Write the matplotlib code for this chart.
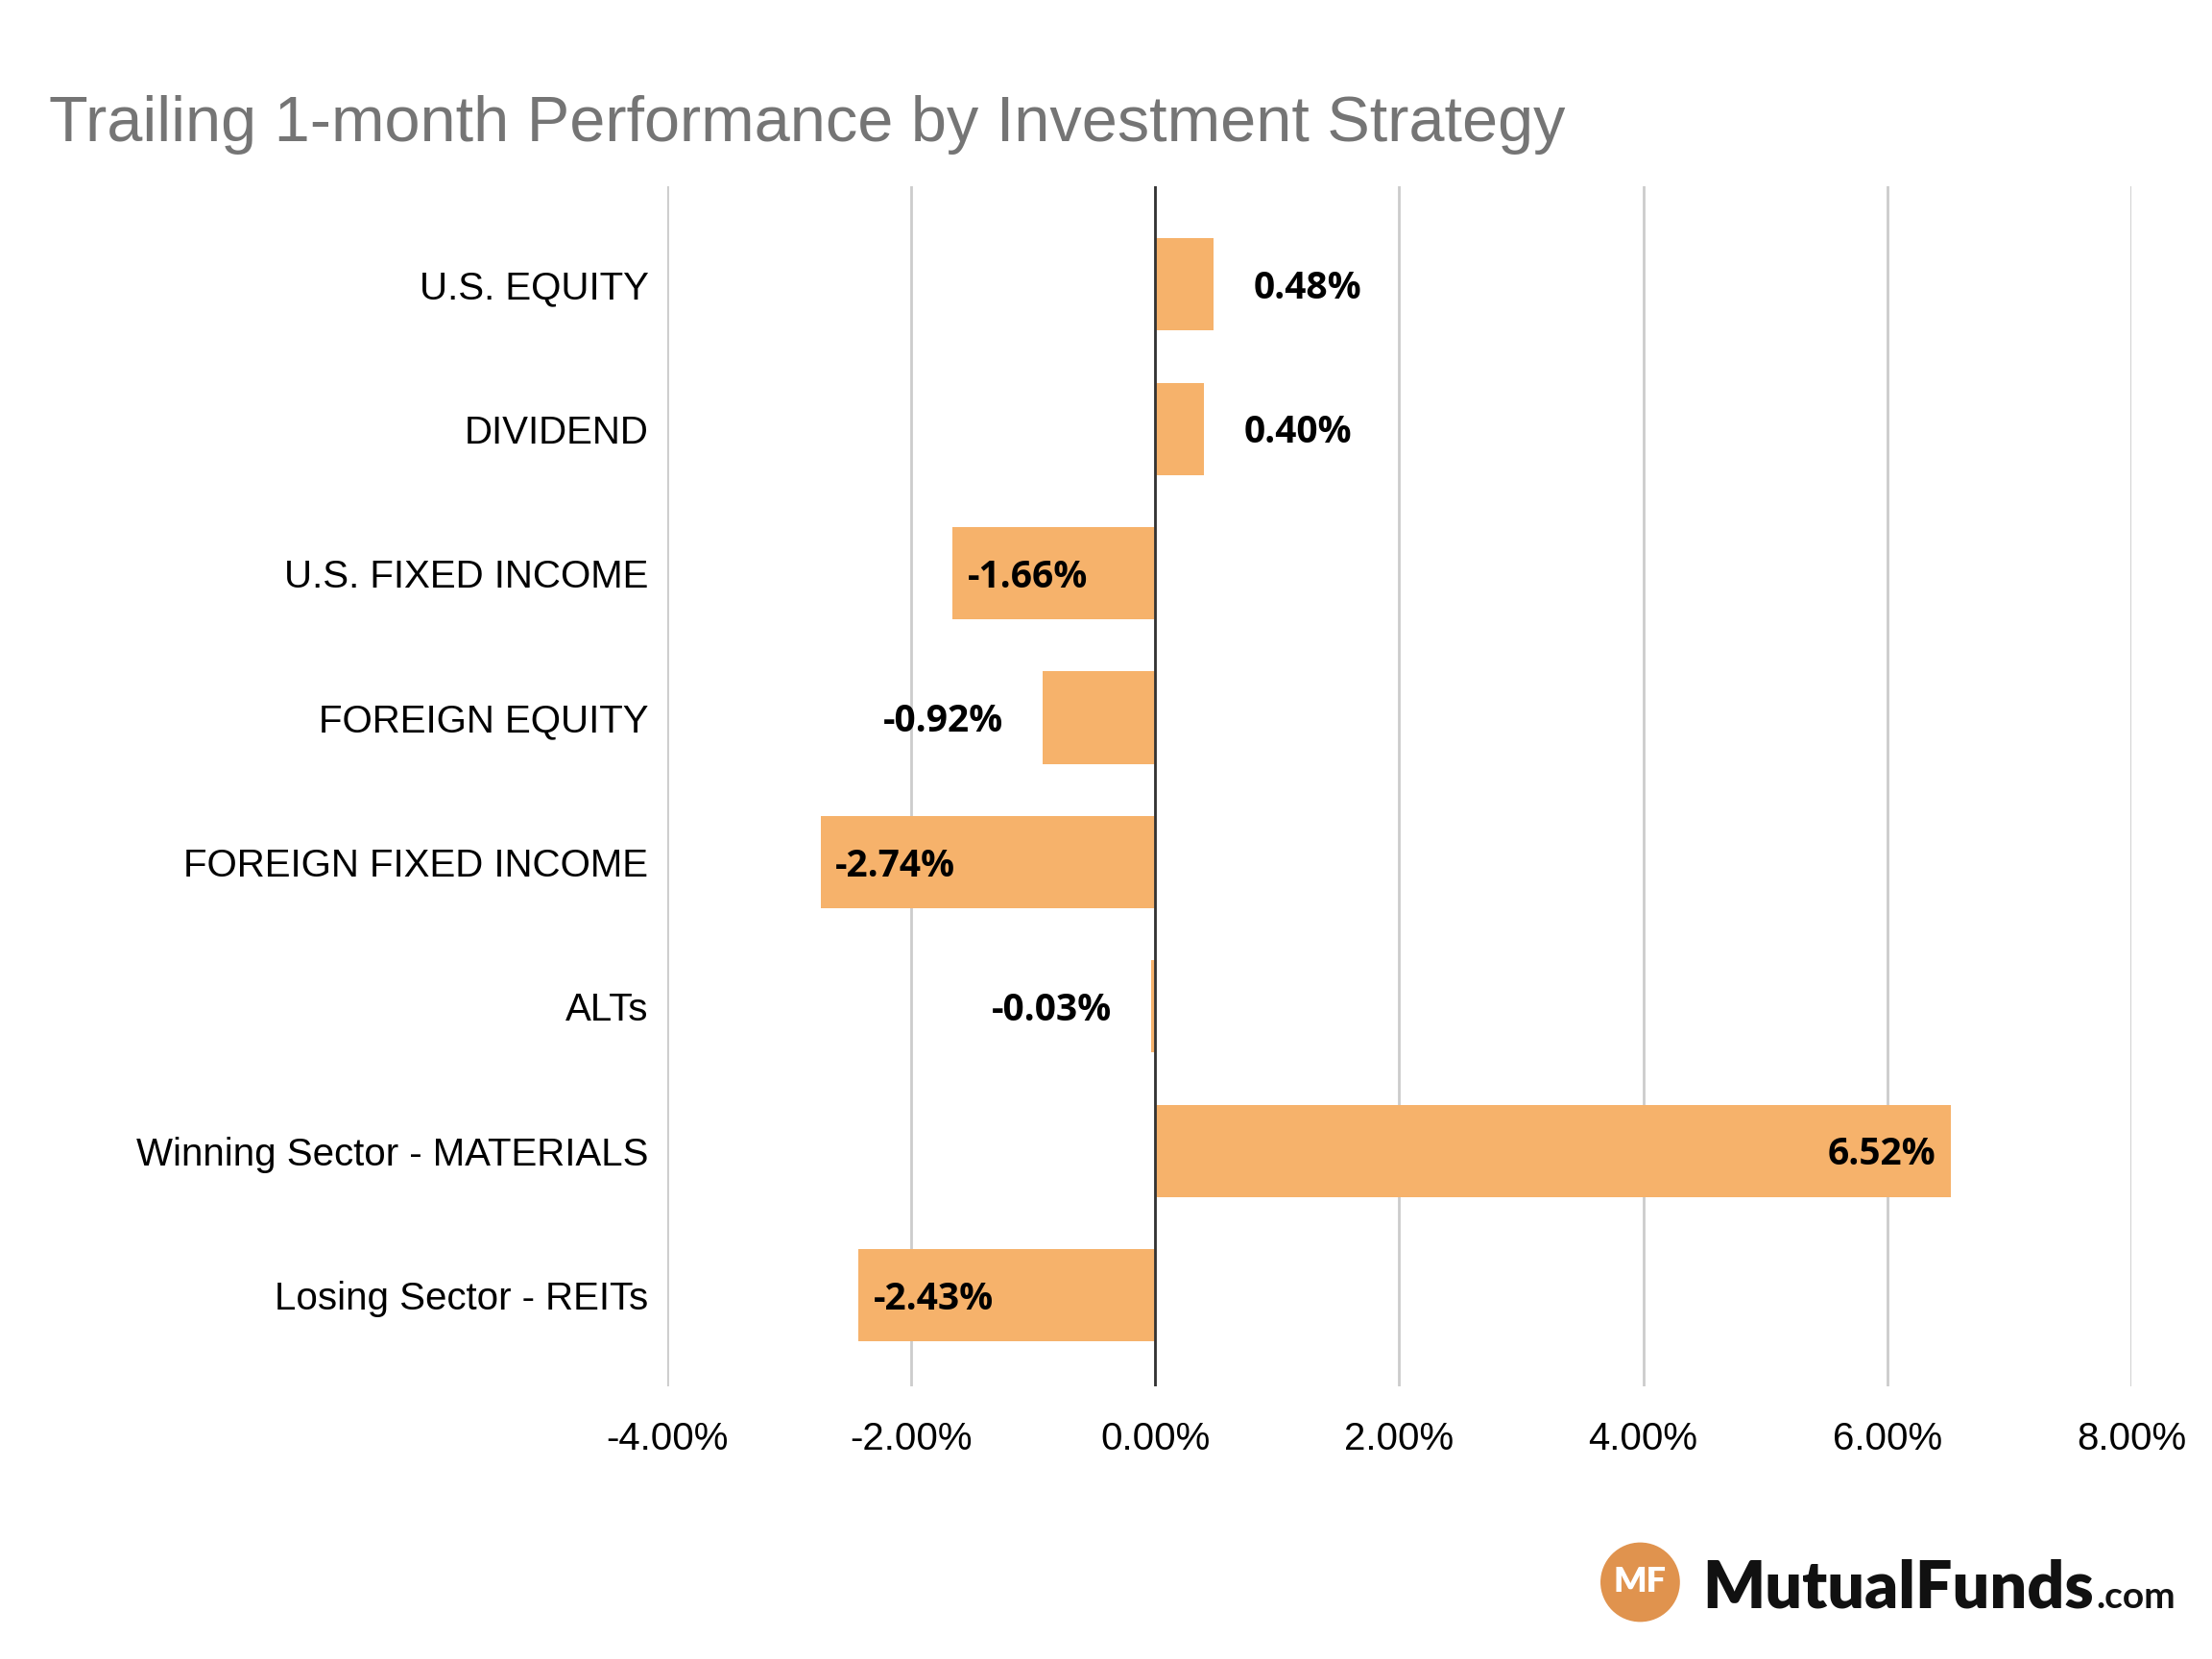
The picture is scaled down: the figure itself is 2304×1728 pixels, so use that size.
import numpy as np
import matplotlib.pyplot as plt
from matplotlib.patches import Ellipse
from matplotlib.ticker import FuncFormatter

# Datos
categorias = ["U.S. EQUITY", "DIVIDEND", "U.S. FIXED INCOME", "FOREIGN EQUITY",
              "FOREIGN FIXED INCOME", "ALTs", "Winning Sector - MATERIALS",
              "Losing Sector - REITs"]
valores = [0.48, 0.40, -1.66, -0.92, -2.74, -0.03, 6.52, -2.43]
ticks_x = [-4, -2, 0, 2, 4, 6, 8]

color_barra = "#F6B26B"

fig = plt.figure(figsize=(11.52, 8.64), dpi=200)
ax = fig.add_axes([0.3016, 0.1644, 0.6619, 0.7233])

y = np.arange(len(categorias))
ax.barh(y, valores, height=0.64, color=color_barra, zorder=2)

ax.set_xlim(-4, 8)
ax.set_ylim(7.63, -0.68)
ax.set_xticks(ticks_x)
ax.xaxis.set_major_formatter(FuncFormatter(lambda v, p: f"{v:.2f}%"))
ax.set_yticks(y)
ax.set_yticklabels(categorias)

for s in ax.spines.values():
    s.set_visible(False)
ax.tick_params(axis="both", length=0, labelsize=14.5, labelcolor="black")
ax.tick_params(axis="x", pad=13)
ax.tick_params(axis="y", pad=7)
for lbl in ax.get_xticklabels() + ax.get_yticklabels():
    lbl.set_family("Liberation Sans")

ax.grid(axis="x", color="#cccccc", linewidth=1.0, zorder=0)
ax.axvline(0, color="#333333", linewidth=1.0, zorder=3)

# Etiquetas de valor
for yi, v in zip(y, valores):
    texto = f"{v:.2f}%"
    if abs(v) >= 1.5:
        off = -5.5 if v > 0 else 5.5
        ha = "right" if v > 0 else "left"
    else:
        off = 15 if v >= 0 else -15
        ha = "left" if v >= 0 else "right"
    ax.annotate(texto, (v, yi), xytext=(off, -1.5), textcoords="offset points",
                ha=ha, va="center", fontsize=14, fontweight="bold",
                family="Open Sans", color="black", zorder=4)

fig.text(0.022, 0.915, "Trailing 1-month Performance by Investment Strategy",
         fontsize=24, color="#757575", family="Liberation Sans", va="baseline")

# Logo
fig.patches.append(Ellipse((0.7415, 0.0463), 2 * 40 / 2304, 2 * 40 / 1728,
                           transform=fig.transFigure, color="#E0934E"))
fig.text(0.7415, 0.0463, "MF", fontsize=13, fontweight="heavy", color="white",
         family="Lato", ha="center", va="center")
t = fig.text(0.7695, 0.0307, "MutualFunds", fontsize=24.5, fontweight="heavy",
             color="#111111", family="Lato", va="baseline")
fig.canvas.draw()
bb = t.get_window_extent().transformed(fig.transFigure.inverted())
fig.text(bb.x1 + 0.001, 0.0307, ".com", fontsize=14, fontweight="bold",
         color="#111111", family="Lato", va="baseline")

fig.savefig("out.png", dpi=200)
